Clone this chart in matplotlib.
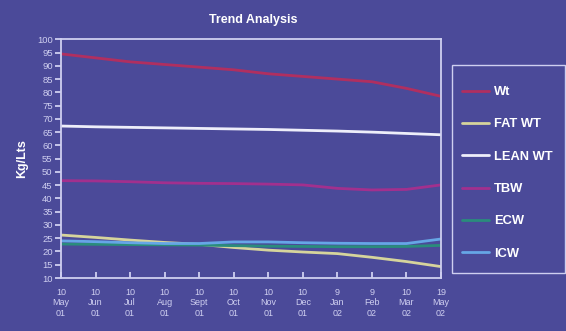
import matplotlib
matplotlib.use("Agg")
import matplotlib.pyplot as plt
from matplotlib.patches import Rectangle

# monthly readings, 10 May 01 .. 19 May 02
dates = ["10\nMay\n01", "10\nJun\n01", "10\nJul\n01", "10\nAug\n01", "10\nSept\n01",
         "10\nOct\n01", "10\nNov\n01", "10\nDec\n01", "9\nJan\n02", "9\nFeb\n02",
         "10\nMar\n02", "19\nMay\n02"]

wt = [94.5, 93.0, 91.5, 90.5, 89.5, 88.5, 87.0, 86.0, 85.0, 84.0, 81.5, 78.5]
fat_wt = [26.2, 25.3, 24.3, 23.4, 22.7, 21.5, 20.5, 19.8, 19.2, 17.8, 16.2, 14.3]
lean_wt = [67.3, 67.0, 66.8, 66.6, 66.4, 66.2, 66.0, 65.7, 65.4, 65.0, 64.5, 64.0]
tbw = [46.7, 46.6, 46.3, 45.9, 45.7, 45.6, 45.4, 45.1, 43.8, 43.2, 43.4, 45.1]
ecw = [22.8, 22.7, 22.6, 22.5, 22.4, 22.2, 22.0, 21.9, 21.8, 21.8, 21.9, 22.3]
icw = [24.0, 23.7, 23.3, 23.0, 23.0, 23.6, 23.6, 23.3, 23.1, 23.0, 23.0, 24.7]

series = [
    ("Wt", wt, "#b02f60"),
    ("FAT WT", fat_wt, "#d6d49c"),
    ("LEAN WT", lean_wt, "#eeeefa"),
    ("TBW", tbw, "#a2308e"),
    ("ECW", ecw, "#2a8c7c"),
    ("ICW", icw, "#66a6e6"),
]

bg = "#4b4a99"
fg = "#cfcff0"

fig = plt.figure(figsize=(5.66, 3.31), dpi=100, facecolor=bg)
ax = fig.add_axes([61 / 566, 1 - 278 / 331, 380 / 566, 238.7 / 331], facecolor=bg)

x = list(range(len(dates)))
handles = []
for name, vals, col in series:
    h, = ax.plot(x, vals, color=col, lw=2.0, label=name, solid_capstyle="round")
    handles.append(h)

ax.set_xlim(0, len(dates) - 1)
ax.set_ylim(10, 100)
ax.set_yticks(range(10, 101, 5))
ax.set_xticks(x)
ax.set_xticklabels(dates, fontsize=6.5, color=fg, family="Liberation Sans",
                   linespacing=1.2)
for lab in ax.get_yticklabels():
    lab.set_fontsize(6.8)
    lab.set_color(fg)
    lab.set_family("Liberation Sans")

for s in ax.spines.values():
    s.set_color(fg)
    s.set_linewidth(1.3)
ax.tick_params(axis="y", direction="out", length=4, width=1.3, color=fg, pad=2)
ax.tick_params(axis="x", direction="in", length=4, width=1.3, color=fg, pad=7)

ax.set_ylabel("Kg/Lts", fontsize=9, fontweight="bold", color="white",
              family="Liberation Sans", labelpad=6)
fig.text(253 / 566, 1 - 20 / 331, "Trend Analysis", ha="center", va="center",
         fontsize=9, fontweight="bold", color="white", family="Liberation Sans")

# legend box drawn separately so its padding can differ from the entries
fig.patches.append(Rectangle((452 / 566, 1 - 273 / 331), 113 / 566, 208 / 331,
                             transform=fig.transFigure, fill=False,
                             edgecolor=fg, lw=1.0))
leg = fig.legend(handles=handles, loc="upper left",
                 bbox_to_anchor=(453 / 566, 1 - 77 / 331),
                 frameon=False, labelspacing=1.57,
                 handlelength=2.05, handletextpad=0.4, borderpad=0.2,
                 prop={"family": "Liberation Sans", "weight": "bold", "size": 9.3})
for t in leg.get_texts():
    t.set_color("white")

fig.savefig("out.png", dpi=100, facecolor=bg)
